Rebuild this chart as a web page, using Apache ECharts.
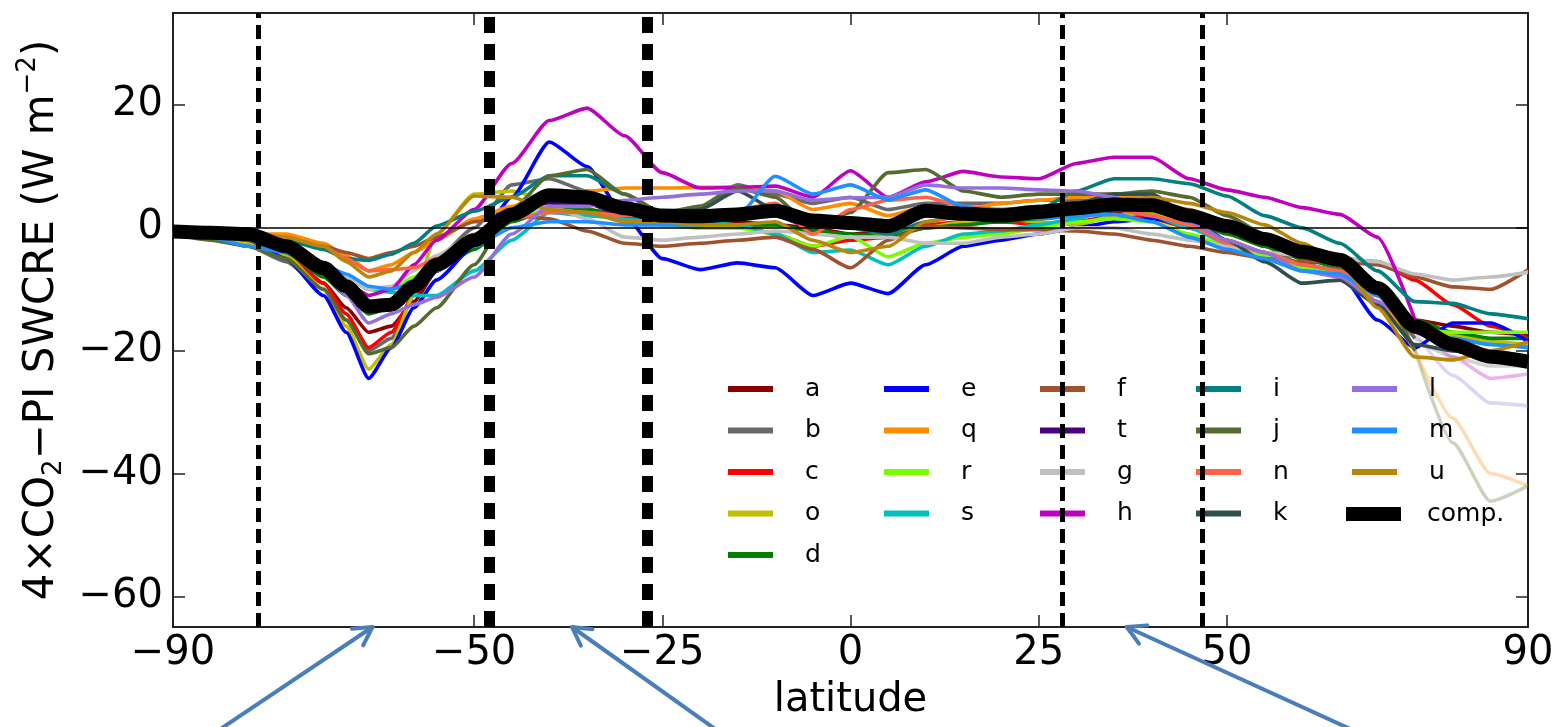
<!DOCTYPE html>
<html><head><meta charset="utf-8">
<script src="https://cdn.jsdelivr.net/npm/echarts@6/dist/echarts.min.js"></script>
<style>html,body{margin:0;padding:0;background:#fff}#c{width:1559px;height:727px}</style>
</head><body><div id="c"></div>
<script>
// ---- data ----
const LATS = [-90,-85,-80,-75,-70,-67,-64,-61,-58,-55,-50,-45,-40,-35,-30,-25,-20,-15,-10,-5,0,5,10,15,20,25,30,35,40,45,50,55,60,65,70,75,80,85,90];
const val_a = [-0.6,-0.8,-1.5,-4,-9,-13,-17,-16,-12,-7, -2,3,3.5,3,2,1,1.5,1,0.5,0, -1,-0.5,0,1,1,1.5,2,2.5,2,0.5, -2,-4,-6,-7,-11,-15,-16,-17,-17.5];
const val_b = [-0.8,-1.5,-3,-5.5,-10,-15,-20,-18,-11,-5, 0,7,8,6,3,2,3.5,7,5.5,4, 5,3,4,4,4,4.5,4.5,4.5,4,2.5, 0,-3,-6,-8,-12,-18,-21,-22.5,-22.5];
const val_c = [-0.8,-1.5,-2,-4,-9,-14,-19.5,-17,-11,-7, -2.5,1.5,3,2.5,1.5,1,1,0.5,-1,-3, -2,-1.5,0.5,1,1,0.5,1,2,1.5,0, -2,-4,-6,-5,-5.5,-8.5,-12.5,-16,-18];
const val_o = [-0.8,-1.5,-2.5,-4.5,-10,-16,-23,-19,-11,-1, 5.5,6,4.5,2.5,1.5,0.5,0,0,0.5,-1, -1.5,-1,0,1,1.5,1,0.5,2,2.5,1, -2,-4,-6,-7,-12,-16,-17.5,-18.5,-19];
const val_d = [-0.8,-1.2,-2,-4,-8,-11,-14,-13,-10,-7, -3.5,1,3,3,2,1.5,1,0.5,0.5,-0.5, -1,-1.5,0,0.5,1,1.5,2.5,3.5,3,1.5, -1,-3,-5,-6.5,-10,-15,-17,-18,-18];
const val_e = [-0.8,-1.2,-2,-5,-11,-17,-24.5,-19.5,-13,-8.5, -3,5,14,10,2,-5,-6.8,-5.7,-6.5,-11, -9,-10.7,-6,-3,-2,-1,0,1,1.5,0.5, -2.5,-4.5,-6.5,-7.5,-15,-19.5,-15.5,-15.5,-18.5];
const val_q = [-0.6,-0.8,-1,-1,-2.5,-4.5,-7,-6,-4,-2, 1.5,3.5,5.5,6,6.5,6.5,6.6,6.6,6,3, 4,2,3.5,3,4,4.5,5,5.5,4.5,3, 0.5,-1.5,-3.5,-6,-12,-20,-31,-40,-42];
const val_r = [-0.8,-1.2,-2,-4,-7,-9,-11,-10,-8,-5, -2,2,3,2.5,1.5,1,0.5,0,-1,-3, -1.4,-4.7,-2.5,-1.5,-1,0,1,1.5,1,-1, -3,-4.5,-6.5,-7.5,-11,-16.5,-17,-17,-17];
const val_s = [-0.8,-1.2,-2,-3.5,-6,-8,-10,-10.5,-11,-11, -7,-2,2.5,2,1.5,1,1,0.5,-1,-4, -3.6,-6,-3,-1,-0.5,0.5,1.5,3,2,0, -2.5,-4,-6,-7,-11,-17,-18,-19,-19.5];
const val_f = [-1,-1,-1,-2,-3,-4,-5,-4,-3,-1.5, 1,2,1.5,-0.5,-2.5,-3,-2.5,-2,-1.5,-3.5, -6.5,-2,0.3,0,-0.3,-0.3,-0.5,-1,-2,-3, -4,-5,-5.5,-5.5,-6,-8,-9.6,-10,-6.8];
const val_t = [-0.8,-1,-1.5,-3,-6.5,-9.5,-12.5,-12,-9.5,-6, -2,2,4,4,2,1.5,1.5,2,2,0, 1,0,2,2,2,2.5,3,4.5,4.5,2, 0,-2,-4,-6,-11,-17,-20,-21,-21.5];
const val_g = [-0.8,-1,-1.5,-3,-6,-8,-10,-9.5,-7,-4.5, -1,2,3.5,1.5,-1.5,-2,-1.5,-1,-0.5,-1, -1.5,-1.5,-2.5,-2.5,-1.5,-1,0,0,-1,-2, -3,-4,-4.5,-5,-5.5,-7.5,-8.5,-8,-7.2];
const val_h = [-0.5,-1,-1.5,-3,-6,-9,-11,-10,-6,-2, 3,10.5,17.5,19.5,15,9,6.5,6.6,6.8,5, 9.3,5,7.5,9.2,8.3,8,10.5,11.5,11.5,8, 6.2,5,3.3,2.2,-1.5,-15,-21,-24.5,-23.8];
const val_i = [-0.8,-1.2,-1.5,-2,-3.5,-5,-5.3,-4.3,-2.5,0.3, 2.7,5,8.5,8.5,5.5,2,2,2.5,3,1.5, 0,-1,1,2,2.5,3,6,8,8,7.2, 5.2,2,0,-2.5,-7,-12,-12.3,-14,-14.8];
const val_j = [-1,-2,-3,-5,-10,-15,-20.5,-19.5,-16,-13, -6,3,8.5,9.5,5.5,2.5,3.5,6.5,5,0, 2.5,9,9.5,6,5,5.5,5.5,5.5,6,5, 2,-1,-4,-6.5,-10,-20,-35,-44.5,-42];
const val_n = [-0.8,-0.9,-1,-1.5,-3,-5,-7,-6.8,-6.5,-5, -2,1.5,2.5,2.5,2,2,2.5,3,4,-1, 3,4.5,5,3.5,3,3,3.5,3,2,0.5, -2.5,-4,-6,-7,-11,-16,-19,-20,-21];
const val_k = [-0.8,-1.2,-2,-4,-7.5,-10,-13,-12.5,-10,-7, -2.5,2.5,5,5.5,3,2.5,3,6,3,1, 1,0,3,3,3,3.5,4,5.5,5.5,2, -2,-5.5,-9,-8.5,-12.5,-19,-20,-21,-21.5];
const val_l = [-0.8,-1,-1.5,-3,-7,-11,-15.5,-14,-12.5,-11.3, -8,-1,3.5,3.5,4.5,5,5.5,6,6,4.5, 4.9,5,7,6.5,6.5,6.2,6,5,3,1, -2,-4,-7,-8,-12,-17,-24,-28.5,-29];
const val_m = [-0.8,-1.5,-3,-4,-6,-7.5,-9.5,-10,-9,-7, -3,0,1,1,0.5,0.5,0.5,2,8.4,5.5, 7,4.6,6.2,3.5,2,1.5,2,2.2,1,-1.5, -3.5,-5,-7,-7.5,-11,-16.5,-18,-19,-19.5];
const val_u = [-0.8,-1,-1,-1.5,-3,-5.5,-8,-7,-4,-1, 5.2,5,3,2.5,1,1,0.5,0.5,1,-2, -4,-3,1,2,2.5,3,4,4.5,5,4, 2.5,0.5,-2.5,-5.5,-13,-21,-21.5,-20,-18.6];
const val_comp = [-0.6,-0.8,-1.0,-3.0,-6.5,-9.5,-12.8,-12.5,-9.5,-6.0, -2.0,2.2,5.3,5.0,3.2,2.0,1.9,2.2,2.8,1.2, 0.8,0.3,2.8,2.3,2.0,2.6,3.2,3.8,3.7,2.0, 0.3,-1.8,-3.9,-5.2,-9.8,-16.0,-19.0,-21.0,-21.8];

const X_TICKS = [-90,-50,-25,0,25,50,90];
const Y_TICKS = [-60,-40,-20,0,20];
const BOUNDS_THIN = [-78.7, 28.1, 46.7];
const BOUNDS_THICK = [-48.0, -27.0];
const ARROW_TARGETS = [-63.5, -37.0, 36.7];
const FADE_FROM = 75;

// ---- styling ----
const FONT = 'DejaVu Sans';
const DEFS = [
  ['a','#8b0000',val_a,false],['b','#696969',val_b,true],['c','#ff0000',val_c,false],['o','#bfbf00',val_o,false],['d','#008000',val_d,false],
  ['e','#0000ff',val_e,false],['q','#ff8c00',val_q,true],['r','#7cfc00',val_r,false],['s','#00bfbf',val_s,false],
  ['f','#a0522d',val_f,false],['t','#4b0082',val_t,false],['g','#c0c0c0',val_g,false],['h','#bf00bf',val_h,true],
  ['i','#008080',val_i,false],['j','#556b2f',val_j,true],['n','#ff6347',val_n,false],['k','#2f4f4f',val_k,false],
  ['l','#9370db',val_l,true],['m','#1e90ff',val_m,false],['u','#b8860b',val_u,false]
];
const COLS = [['a','b','c','o','d'],['e','q','r','s'],['f','t','g','h'],['i','j','n','k'],['l','m','u']];
const minus = v => (v < 0 ? '\u2212' : '') + Math.abs(v);

const series = [];
series.push({type:'line', name:'_zero', data:[], z:1, silent:true,
  markLine:{silent:true, symbol:'none', label:{show:false}, animation:false,
    lineStyle:{color:'#000', width:1.5, type:'solid'}, data:[{yAxis:0}]}});
const tails = [];
DEFS.forEach(([name,color,vals,fade]) => {
  const pts = LATS.map((x,idx)=>[x, vals[idx]]);
  const main = fade ? pts.filter(p=>p[0] <= FADE_FROM) : pts;
  series.push({type:'line', name, data:main, showSymbol:false, symbol:'none', smooth:0.2, smoothMonotone:'x',
    itemStyle:{color}, lineStyle:{color, width:3.6}, z:2});
  if (fade) {
    tails.push({type:'line', name:'_'+name+'_tail', data:pts.filter(p=>p[0] >= FADE_FROM), showSymbol:false, symbol:'none',
      smooth:0.2, smoothMonotone:'x', itemStyle:{color}, lineStyle:{color, width:3.6, opacity:0.3}, z:2});
  }
});
tails.forEach(t=>series.unshift(t));
series.push({type:'line', name:'comp.', data:LATS.map((x,idx)=>[x, val_comp[idx]]), showSymbol:false, symbol:'none',
  smooth:0.25, smoothMonotone:'x', itemStyle:{color:'#000'}, lineStyle:{color:'#000', width:14}, z:3});
series.push({type:'line', name:'_bounds', data:[], z:10, silent:true,
  markLine:{silent:true, symbol:'none', label:{show:false}, animation:false,
    data: BOUNDS_THIN.map(v=>({xAxis:v, lineStyle:{color:'#000', width:5, type:[14,7]}}))
      .concat(BOUNDS_THICK.map(v=>({xAxis:v, lineStyle:{color:'#000', width:11, type:[16,11]}})))}});

const legTxt = {fontFamily:FONT, fontSize:25, color:'#000', lineHeight:30, padding:[0,0,0,27]};
const legends = COLS.map((names,ci)=>({orient:'vertical', left:728+156*ci, top:374, padding:0,
  itemWidth:45, itemHeight:6, itemGap:11.5, icon:'rect', data:names, textStyle:legTxt, z:3,
  itemStyle:{borderWidth:0}, lineStyle:{width:0}}));
legends.push({orient:'vertical', left:1346, top:499, padding:0, itemWidth:55, itemHeight:14, icon:'rect',
  data:['comp.'], textStyle:Object.assign({}, legTxt, {padding:[0,0,0,21]}), z:3, itemStyle:{borderWidth:0}, lineStyle:{width:0}});

const axisLineStyle = {color:'#222', width:2};
const option = {
  animation:false,
  backgroundColor:'#fff',
  grid:{left:173, right:31, top:13, bottom:100, show:true, borderColor:'#222', borderWidth:2, backgroundColor:'transparent'},
  legend: legends,
  xAxis:[
    {type:'value', min:-90, max:90, position:'bottom',
     axisLine:{show:true, onZero:false, lineStyle:axisLineStyle},
     axisTick:{show:true, inside:true, length:12, customValues:X_TICKS, lineStyle:{color:'#222', width:1.5}},
     axisLabel:{customValues:X_TICKS, formatter:minus, fontFamily:FONT, fontSize:40, color:'#000', margin:7},
     splitLine:{show:false},
     name:'latitude', nameLocation:'middle', nameGap:54, nameTextStyle:{fontFamily:FONT, fontSize:40, color:'#000'}},
    {type:'value', min:-90, max:90, position:'top',
     axisLine:{show:true, onZero:false, lineStyle:axisLineStyle},
     axisTick:{show:true, inside:true, length:12, customValues:X_TICKS, lineStyle:{color:'#222', width:1.5}},
     axisLabel:{show:false}, splitLine:{show:false}}
  ],
  yAxis:[
    {type:'value', min:-65, max:35, position:'left',
     axisLine:{show:true, onZero:false, lineStyle:axisLineStyle},
     axisTick:{show:true, inside:true, length:12, customValues:Y_TICKS, lineStyle:{color:'#222', width:1.5}},
     axisLabel:{customValues:Y_TICKS, formatter:minus, fontFamily:FONT, fontSize:40, color:'#000', margin:10},
     splitLine:{show:false},
     name:'{n|4\u00d7CO}{sub|2}{n|\u2212PI SWCRE (W m}{sup|\u22122}{n|)}', nameLocation:'middle', nameGap:100,
     nameTextStyle:{fontFamily:FONT, fontSize:42, color:'#000',
       rich:{n:{fontFamily:FONT, fontSize:42, color:'#000', lineHeight:52},
             sub:{fontFamily:FONT, fontSize:26, color:'#000', verticalAlign:'bottom', lineHeight:34},
             sup:{fontFamily:FONT, fontSize:26, color:'#000', verticalAlign:'top', lineHeight:26}}}},
    {type:'value', min:-65, max:35, position:'right',
     axisLine:{show:true, onZero:false, lineStyle:axisLineStyle},
     axisTick:{show:true, inside:true, length:12, customValues:Y_TICKS, lineStyle:{color:'#222', width:1.5}},
     axisLabel:{show:false}, splitLine:{show:false}}
  ],
  series: series
};

const chart = echarts.init(document.getElementById('c'), null, {renderer:'canvas'});
chart.setOption(option);

// annotation arrows pointing at latitudes on the x axis
const ARROW_DX = [-155, 146, 228];
const graphics = [];
ARROW_TARGETS.forEach((lat, idx) => {
  const tip = chart.convertToPixel({xAxisIndex:0, yAxisIndex:0}, [lat, -65]);
  const tail = [tip[0] + ARROW_DX[idx], tip[1] + 104];
  const dx = tip[0]-tail[0], dy = tip[1]-tail[1];
  const len = Math.hypot(dx,dy), ux = dx/len, uy = dy/len, nx = -uy, ny = ux;
  const L = 18, W = 10;
  const stroke = {stroke:'#4a7ebb', lineWidth:4, fill:null, lineCap:'round', lineJoin:'round'};
  graphics.push({type:'line', z:100, silent:true, shape:{x1:tail[0], y1:tail[1], x2:tip[0], y2:tip[1]}, style:stroke});
  graphics.push({type:'polyline', z:100, silent:true,
    shape:{points:[[tip[0]-ux*L+nx*W, tip[1]-uy*L+ny*W],[tip[0],tip[1]],[tip[0]-ux*L-nx*W, tip[1]-uy*L-ny*W]]}, style:stroke});
});
chart.setOption({graphic: graphics});
</script></body></html>
